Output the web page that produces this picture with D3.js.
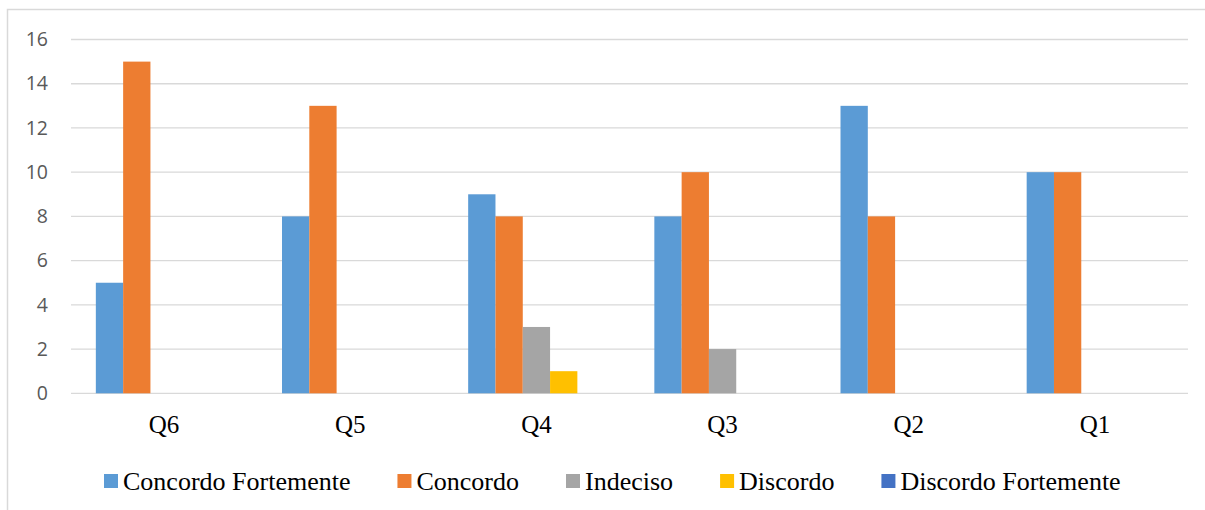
<!DOCTYPE html>
<html>
<head>
<meta charset="utf-8">
<script src="https://cdn.jsdelivr.net/npm/d3@7"></script>
<style>
  body { margin: 0; background: #fff; }
</style>
</head>
<body>
<div id="chart-area"></div>
<script>
var categories = ["Q6", "Q5", "Q4", "Q3", "Q2", "Q1"]
var seriesNames = ["Concordo Fortemente", "Concordo", "Indeciso", "Discordo", "Discordo Fortemente"]
var concordoFortemente = [5, 8, 9, 8, 13, 10]
var concordo = [15, 13, 8, 10, 8, 10]
var indeciso = [0, 0, 3, 2, 0, 0]
var discordo = [0, 0, 1, 0, 0, 0]
var discordoFortemente = [0, 0, 0, 0, 0, 0]
var yTicks = [0, 2, 4, 6, 8, 10, 12, 14, 16]
var colors = ["#5B9BD5", "#ED7D31", "#A5A5A5", "#FFC000", "#4472C4"]

var allSeries = [concordoFortemente, concordo, indeciso, discordo, discordoFortemente]

var W = 1205, H = 510
var margin = { left: 71, right: 17, top: 39.5, bottom: 116.7 }
var width = W - margin.left - margin.right
var height = H - margin.top - margin.bottom

var svg = d3.select("#chart-area")
	.append("svg")
	.attr("width", W)
	.attr("height", H)

// chart border (only top and left visible in the picture)
svg.append("rect")
	.attr("x", 7.5).attr("y", 9.5)
	.attr("width", W + 10).attr("height", H + 10)
	.attr("fill", "none")
	.attr("stroke", "#d9d9d9")
	.attr("stroke-width", 1.5)

var g = svg.append("g")
	.attr("transform", "translate(" + margin.left + "," + margin.top + ")")

var x0 = d3.scaleBand()
	.domain(categories)
	.range([0, width])
	.paddingInner(0)
	.paddingOuter(0)

// gap width about 182% of one bar
var gap = x0.bandwidth() * 1.82 / (5 + 1.82)
var x1 = d3.scaleBand()
	.domain(d3.range(5))
	.range([gap / 2, x0.bandwidth() - gap / 2])

var y = d3.scaleLinear()
	.domain([0, 16])
	.range([height, 0])

// gridlines
g.append("g")
	.selectAll("line")
	.data(yTicks)
	.enter()
	.append("line")
	.attr("x1", 0).attr("x2", width)
	.attr("y1", function (d) { return y(d) })
	.attr("y2", function (d) { return y(d) })
	.attr("stroke", "#d9d9d9")
	.attr("stroke-width", 1.3)

// y axis labels
var leftAxis = d3.axisLeft(y).tickValues(yTicks).tickSize(0).tickPadding(23)
g.append("g")
	.attr("class", "y-axis")
	.call(leftAxis)
	.call(function (s) { s.select(".domain").remove() })
	.selectAll("text")
	.attr("font-family", "'Open Sans', sans-serif")
	.attr("font-size", 19.5)
	.attr("fill", "#595959")

// bars
var groups = g.selectAll(".cat")
	.data(categories)
	.enter()
	.append("g")
	.attr("class", "cat")
	.attr("transform", function (d) { return "translate(" + x0(d) + ",0)" })

groups.selectAll("rect")
	.data(function (d, i) {
		return allSeries.map(function (s, k) { return { k: k, v: s[i] } })
	})
	.enter()
	.append("rect")
	.attr("x", function (d) { return x1(d.k) })
	.attr("y", function (d) { return y(d.v) })
	.attr("width", x1.bandwidth())
	.attr("height", function (d) { return height - y(d.v) })
	.attr("fill", function (d) { return colors[d.k] })

// category axis
var bottomAxis = d3.axisBottom(x0).tickSize(0).tickPadding(22)
g.append("g")
	.attr("class", "x-axis")
	.attr("transform", "translate(0," + height + ")")
	.call(bottomAxis)
	.call(function (s) { s.select(".domain").remove() })
	.selectAll("text")
	.attr("font-family", "'Liberation Serif', 'Times New Roman', serif")
	.attr("font-size", 25)
	.attr("fill", "#000")

// legend
var legend = svg.append("g").attr("transform", "translate(104,481)")
var lx = 0
seriesNames.forEach(function (name, k) {
	var item = legend.append("g").attr("transform", "translate(" + lx + ",0)")
	item.append("rect")
		.attr("x", 0).attr("y", -7)
		.attr("width", 14).attr("height", 14)
		.attr("fill", colors[k])
	var t = item.append("text")
		.attr("x", 19).attr("y", 9)
		.attr("font-family", "'Liberation Serif', 'Times New Roman', serif")
		.attr("font-size", 26)
		.attr("fill", "#000")
		.text(name)
	lx += 19 + t.node().getComputedTextLength() + 47
})
</script>
</body>
</html>
